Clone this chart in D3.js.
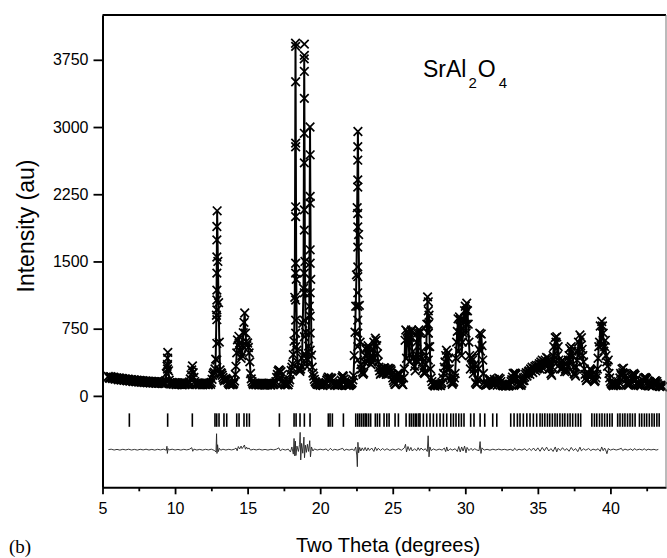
<!DOCTYPE html>
<html>
<head>
<meta charset="utf-8">
<title>SrAl2O4 - Rietveld plot</title>
<script src="https://d3js.org/d3.v7.min.js"></script>
<style>
  body { margin: 0; background: #fff; }
  text { font-family: "Liberation Sans", Arial, sans-serif; fill: #000; }
</style>
</head>
<body>
<script>
  var width = 667;
  var height = 558;
  var margin = {left: 102.5, top: 15, right: 1, bottom: 70.7};

  // observed counts, 2theta starts at 5.4 deg, 0.1 deg steps
  var thetaStart = 5.4;
  var thetaStep = 0.1;
  var counts = [
    218, 196, 212, 192, 206, 186,                          // 5.4 - 5.9
    200, 180, 196, 176, 192, 172, 188, 168, 184, 164,      // 6
    181, 160, 177, 157, 174, 154, 171, 151, 168, 149,      // 7
    166, 146, 163, 144, 161, 142, 159, 140, 157, 139,      // 8
    155, 137, 153, 136, 250, 485, 175, 132, 150, 130,      // 9
    148, 127, 145, 129, 142, 124, 146, 126, 141, 128,      // 10
    155, 235, 335, 205, 138, 125, 144, 127, 140, 124,      // 11
    143, 126, 141, 125, 144, 150, 230, 265, 410, 2065,     // 12
    1040, 290, 250, 205, 168, 195, 176, 138, 124, 140,     // 13
    128, 165, 330, 625, 665, 505, 450, 705, 925, 605,      // 14
    590, 480, 250, 160, 127, 142, 125, 140, 122, 139,      // 15
    124, 140, 121, 138, 123, 141, 120, 137, 125, 142,      // 16
    205, 275, 285, 270, 170, 137, 122, 139, 125, 180,      // 17
    285, 355, 610, 3935, 510, 305, 275, 335, 810, 3760,    // 18
    710, 325, 555, 3000, 455, 255, 185, 150, 128, 142,     // 19
    118, 133, 115, 130, 150, 192, 205, 185, 195, 140,      // 20
    118, 132, 114, 129, 135, 205, 218, 160, 118, 132,      // 21
    115, 130, 145, 225, 710, 1350, 2950, 1010, 350, 265,   // 22
    255, 450, 540, 560, 480, 350, 420, 600, 645, 560,      // 23
    380, 280, 255, 300, 315, 295, 290, 310, 300, 280,      // 24
    200, 150, 130, 230, 255, 240, 150, 125, 300, 735,      // 25
    720, 600, 650, 735, 500, 330, 400, 700, 735, 720,      // 26
    500, 300, 250, 450, 1105, 900, 300, 160, 125, 110,     // 27
    130, 112, 128, 115, 150, 250, 380, 510, 480, 300,      // 28
    180, 130, 160, 250, 600, 860, 880, 780, 600, 850,      // 29
    1000, 1035, 800, 450, 430, 400, 300, 150, 130, 300,    // 30
    700, 690, 400, 150, 118, 125, 140, 190, 170, 120,      // 31
    185, 150, 118, 200, 190, 130, 112, 125, 108, 122,      // 32
    110, 130, 180, 250, 255, 240, 150, 118, 128, 140,      // 33
    200, 210, 260, 250, 280, 300, 320, 300, 330, 340,      // 34
    310, 360, 380, 400, 360, 400, 430, 420, 300, 250,      // 35
    320, 550, 650, 660, 550, 350, 380, 400, 380, 300,      // 36
    270, 400, 530, 550, 450, 250, 220, 400, 600, 680,      // 37
    650, 450, 300, 200, 180, 250, 300, 280, 200, 160,      // 38
    200, 300, 550, 780, 830, 700, 550, 450, 330, 250,      // 39
    160, 128, 112, 135, 118, 130, 150, 250, 300, 310,      // 40
    220, 140, 122, 130, 160, 240, 250, 230, 140, 118,      // 41
    128, 112, 140, 200, 205, 190, 130, 112, 122, 108,      // 42
    150, 170, 160, 118, 105, 115, 100                      // 43.0 - 43.6
  ];

  // observed counts at the half steps, 2theta from 5.45 deg
  var midStart = 5.45;
  var countsMid = [
    202, 214, 198, 208, 190, 202,                          // 5.45 - 5.95
    188, 200, 182, 194, 178, 190, 174, 186, 170, 180,      // 6.05 ...
    168, 178, 164, 175, 160, 172, 158, 169, 155, 165,      // 7
    152, 164, 150, 162, 148, 160, 146, 158, 144, 156,      // 8
    142, 155, 140, 170, 330, 280, 148, 142, 135, 146,      // 9
    130, 144, 128, 141, 127, 143, 126, 140, 130, 142,      // 10
    190, 290, 260, 160, 130, 141, 126, 139, 128, 140,      // 11
    128, 140, 126, 139, 128, 185, 250, 300, 900, 1500,     // 12
    600, 260, 230, 185, 185, 180, 150, 130, 138, 126,      // 13
    140, 240, 480, 560, 590, 420, 560, 820, 700, 560,      // 14
    540, 380, 190, 140, 138, 126, 139, 124, 138, 126,      // 15
    138, 124, 137, 122, 139, 124, 136, 126, 138, 160,      // 16
    240, 290, 265, 230, 150, 125, 138, 124, 150, 240,      // 17
    320, 460, 1100, 1300, 380, 290, 300, 420, 1200, 1500,  // 18
    420, 400, 1000, 1300, 320, 220, 160, 138, 126, 130,    // 19
    128, 120, 132, 140, 175, 210, 190, 200, 160, 125,      // 20
    126, 120, 130, 124, 175, 225, 190, 130, 126, 118,      // 21
    124, 136, 180, 450, 1000, 2100, 1800, 600, 300, 240,   // 22
    380, 520, 380, 530, 420, 380, 520, 420, 620, 470,      // 23
    320, 240, 290, 250, 310, 240, 300, 250, 295, 240,      // 24
    170, 128, 200, 250, 180, 200, 130, 200, 620, 420,      // 25
    700, 380, 720, 420, 420, 280, 600, 380, 700, 430,      // 26
    380, 260, 350, 800, 700, 550, 200, 130, 118, 125,      // 27
    120, 126, 118, 135, 200, 320, 450, 300, 420, 220,      // 28
    150, 145, 200, 420, 720, 500, 850, 450, 700, 950,      // 29
    700, 950, 600, 300, 420, 250, 350, 135, 180, 520,      // 30
    500, 560, 250, 130, 122, 128, 175, 150, 160, 145,      // 31
    130, 170, 165, 140, 160, 118, 120, 112, 118, 115,      // 32
    118, 160, 210, 180, 250, 190, 130, 125, 118, 170,      // 33
    170, 240, 220, 270, 240, 280, 260, 310, 280, 300,      // 34
    340, 300, 350, 310, 380, 330, 360, 300, 380, 230,      // 35
    450, 380, 600, 450, 400, 300, 300, 330, 270, 290,      // 36
    330, 450, 380, 500, 320, 240, 320, 500, 450, 560,      // 37
    520, 380, 240, 170, 230, 210, 290, 240, 180, 170,      // 38
    240, 420, 600, 560, 780, 500, 620, 380, 400, 200,      // 39
    140, 120, 126, 120, 126, 118, 200, 230, 260, 250,      // 40
    175, 126, 118, 140, 200, 210, 240, 180, 128, 124,      // 41
    118, 125, 170, 160, 200, 150, 118, 124, 110, 135,      // 42
    165, 140, 135, 110, 120, 108                           // 43.05 - 43.55
  ];

  // extra observed points on the flanks of the sharp peaks
  var flankTheta = [9.48, 12.88, 18.31, 18.91, 19.31, 22.59, 27.45, 29.62, 30.07];
  var flankCounts = [
    [420, 350, 300],
    [1890, 1740, 1550, 1370, 1180, 1070, 960, 850, 585, 400],
    [3900, 3505, 2820, 2780, 2110, 2000, 1480, 1370, 1070, 845, 700, 550],
    [3925, 3800, 3620, 3320, 2930, 2600, 2075, 1850, 1370, 1150, 845, 660, 470],
    [2690, 2225, 2150, 1630, 1480, 1150, 890, 700, 510],
    [2780, 2630, 2410, 2330, 2035, 1885, 1660, 1440, 1330, 1150, 1000, 845, 700, 550, 400],
    [1050, 950, 800, 700, 550, 400],
    [780, 650],
    [950, 800]
  ];

  // Bragg reflection positions (2theta)
  var braggPositions = [6.85, 9.49, 11.19, 12.75, 12.87, 13.03, 13.37, 13.56, 14.25, 14.41, 14.75,
    14.94, 15.12, 17.19, 18.2, 18.34, 18.61, 18.91, 19.3, 20.56, 20.68, 20.84, 21.6, 22.45, 22.59,
    22.72, 22.85, 22.98, 23.1, 23.2, 23.34, 23.48, 23.8, 23.94, 24.1, 24.4, 24.59, 24.75, 25.16,
    25.39, 25.92, 26.15, 26.28, 26.42, 26.55, 26.65, 26.8, 26.88, 27.11, 27.34, 27.57, 27.8, 28.03,
    28.26, 28.49, 28.72, 29.0, 29.18, 29.36, 29.55, 29.73, 29.91, 30.37, 30.6, 31.02, 31.34, 31.89,
    32.17, 33.13, 33.36, 33.59, 33.77, 34.0, 34.24, 34.46, 34.69, 34.92, 35.15, 35.31, 35.48, 35.66,
    35.82, 36.0, 36.18, 36.34, 36.52, 36.7, 36.86, 37.05, 37.22, 37.4, 37.6, 37.78, 37.95, 38.72,
    38.9, 39.06, 39.25, 39.42, 39.6, 39.78, 39.95, 40.12, 40.5, 40.66, 40.84, 41.0, 41.18, 41.35,
    41.52, 41.7, 42.0, 42.16, 42.34, 42.5, 42.68, 42.86, 43.02, 43.2, 43.36];

  // observed - calculated, [2theta, counts]
  var difference = [
    [5.4,0],[5.6,5],[5.8,-4],[6.0,3],[6.2,-5],[6.4,4],[6.6,-3],[6.8,5],[7.0,-4],[7.2,3],[7.4,-5],
    [7.6,4],[7.8,-3],[8.0,5],[8.2,-4],[8.4,3],[8.6,-5],[8.8,4],[9.0,-3],[9.2,5],[9.4,-6],
    [9.44,38],[9.47,-42],[9.52,12],[9.6,-3],[9.8,5],[10.0,-4],[10.2,3],[10.4,-5],[10.6,4],[10.8,-3],
    [11.0,5],[11.15,22],[11.22,-18],[11.3,6],[11.5,-4],[11.7,3],[11.9,-5],[12.1,4],[12.3,-3],
    [12.5,5],[12.7,-8],[12.82,-25],[12.86,178],[12.89,-42],[12.93,55],[12.98,-22],[13.05,15],
    [13.15,-6],[13.3,5],[13.5,-4],[13.7,4],[13.9,-3],[14.1,6],[14.2,18],[14.28,-12],[14.36,35],
    [14.45,8],[14.55,40],[14.62,12],[14.7,30],[14.78,52],[14.85,5],[14.93,28],[15.0,8],[15.1,18],
    [15.2,-5],[15.4,4],[15.6,-3],[15.8,5],[16.0,-4],[16.2,3],[16.4,-5],[16.6,4],[16.8,-3],[17.0,6],
    [17.15,20],[17.25,-12],[17.4,5],[17.6,-4],[17.8,6],[17.95,-25],[18.05,30],[18.15,-50],[18.2,125],
    [18.25,-70],[18.29,95],[18.33,-65],[18.4,40],[18.5,-20],[18.58,60],[18.62,193],[18.66,-115],
    [18.72,70],[18.8,-40],[18.88,140],[18.92,-90],[18.98,50],[19.05,-30],[19.12,60],[19.2,-20],
    [19.28,100],[19.33,-80],[19.4,30],[19.5,-15],[19.6,8],[19.8,-4],[20.0,5],[20.2,-3],[20.4,8],
    [20.55,-12],[20.7,14],[20.85,-8],[21.0,4],[21.2,-5],[21.4,6],[21.55,15],[21.65,-10],[21.8,4],
    [22.0,-5],[22.2,6],[22.35,-10],[22.45,30],[22.52,-60],[22.56,-190],[22.6,82],[22.65,-35],
    [22.72,25],[22.8,-15],[22.9,20],[23.0,-10],[23.1,25],[23.2,-15],[23.3,20],[23.4,-8],[23.55,18],
    [23.7,-20],[23.8,28],[23.9,-10],[24.0,15],[24.15,-8],[24.3,12],[24.45,-6],[24.6,10],[24.8,-8],
    [25.0,6],[25.2,-5],[25.4,10],[25.6,-6],[25.8,20],[25.88,60],[25.95,-25],[26.05,35],[26.15,-10],
    [26.25,25],[26.35,-15],[26.5,10],[26.65,-12],[26.75,22],[26.85,-8],[26.95,18],[27.1,-6],
    [27.25,10],[27.38,-20],[27.44,155],[27.5,-80],[27.56,30],[27.65,-10],[27.8,8],[28.0,-6],
    [28.2,6],[28.4,-5],[28.55,18],[28.65,-22],[28.72,30],[28.8,-15],[28.95,10],[29.1,-5],[29.3,10],
    [29.45,-20],[29.55,35],[29.65,-25],[29.75,30],[29.85,-15],[29.95,40],[30.05,-35],[30.12,25],
    [30.25,-10],[30.4,15],[30.5,-8],[30.65,10],[30.8,-4],[30.95,-10],[31.02,90],[31.08,-42],
    [31.15,20],[31.3,-5],[31.5,4],[31.7,-6],[31.9,5],[32.1,-4],[32.3,6],[32.5,-3],[32.7,4],
    [32.9,-5],[33.1,4],[33.3,-10],[33.4,15],[33.55,-8],[33.7,5],[33.9,-5],[34.1,10],[34.25,-12],
    [34.4,14],[34.55,-10],[34.7,18],[34.85,-14],[35.0,20],[35.15,-18],[35.3,25],[35.45,-12],
    [35.6,28],[35.75,-15],[35.9,12],[36.05,-20],[36.2,30],[36.3,-25],[36.4,15],[36.55,-10],
    [36.7,22],[36.85,-8],[37.0,12],[37.15,-18],[37.3,25],[37.45,-10],[37.6,12],[37.75,-22],
    [37.9,28],[38.0,-12],[38.15,10],[38.3,-6],[38.5,12],[38.65,-10],[38.8,6],[39.0,-5],[39.15,10],
    [39.3,-18],[39.4,30],[39.5,-12],[39.6,18],[39.7,-15],[39.76,-45],[39.85,12],[40.0,-5],[40.2,6],
    [40.4,-4],[40.6,5],[40.75,15],[40.85,-10],[41.0,6],[41.2,-5],[41.4,8],[41.55,-10],[41.65,12],
    [41.8,-4],[42.0,5],[42.2,-4],[42.35,10],[42.45,-8],[42.6,5],[42.8,-3],[43.0,4],[43.15,-5],[43.3,3]
  ];

  var xTicks = [5, 10, 15, 20, 25, 30, 35, 40];
  var xMinorTicks = [7.5, 12.5, 17.5, 22.5, 27.5, 32.5, 37.5, 42.5];
  var yTicks = [0, 750, 1500, 2250, 3000, 3750];

  var diffOffset = -600;
  var braggTop = -195, braggBottom = -345;

  var xScale = d3.scaleLinear().domain([5, 43.83]).range([margin.left, width - margin.right]);
  var yScale = d3.scaleLinear().domain([-1020, 4250]).range([height - margin.bottom, margin.top]);

  var observed = counts.map(function(c, i){ return [thetaStart + i * thetaStep, c]; })
                       .concat(countsMid.map(function(c, i){ return [midStart + i * thetaStep, c]; }))
                       .sort(function(a, b){ return a[0] - b[0]; });
  var flankPoints = [];
  flankTheta.forEach(function(t, i){
    flankCounts[i].forEach(function(c){ flankPoints.push([t, c]); });
  });

  var svg = d3.select("body")
              .append("svg")
              .attr("width", width)
              .attr("height", height);

  // Bragg tick marks
  svg.append("g").selectAll("line")
     .data(braggPositions)
     .enter().append("line")
     .attr("x1", function(d){ return xScale(d); })
     .attr("x2", function(d){ return xScale(d); })
     .attr("y1", yScale(braggTop))
     .attr("y2", yScale(braggBottom))
     .attr("stroke", "#000")
     .attr("stroke-width", 1.6);

  // difference curve
  var diffLine = d3.line()
                   .x(function(d){ return xScale(d[0]); })
                   .y(function(d){ return yScale(diffOffset + d[1]); });
  svg.append("path")
     .datum(difference)
     .attr("d", diffLine)
     .attr("fill", "none")
     .attr("stroke", "#222")
     .attr("stroke-width", 0.9);

  // calculated profile
  var calcLine = d3.line()
                   .x(function(d){ return xScale(d[0]); })
                   .y(function(d){ return yScale(d[1]); });
  svg.append("path")
     .datum(observed)
     .attr("d", calcLine)
     .attr("fill", "none")
     .attr("stroke", "#000")
     .attr("stroke-width", 2);

  // observed points as x markers
  function xMark(s){
    return "M" + (-s) + "," + (-s) + "L" + s + "," + s + "M" + (-s) + "," + s + "L" + s + "," + (-s);
  }
  svg.append("g").selectAll("path")
     .data(observed.concat(flankPoints))
     .enter().append("path")
     .attr("d", xMark(4.3))
     .attr("transform", function(d){ return "translate(" + xScale(d[0]) + "," + yScale(d[1]) + ")"; })
     .attr("fill", "none")
     .attr("stroke", "#000")
     .attr("stroke-width", 1.7);

  // axes
  var yAxis = d3.axisLeft(yScale).tickValues(yTicks).tickFormat(d3.format("d"))
                .tickSize(9).tickSizeOuter(0).tickPadding(5);
  var gy = svg.append("g").attr("transform", "translate(" + margin.left + ",0)").call(yAxis);

  var xAxis = d3.axisBottom(xScale).tickValues(xTicks).tickFormat(d3.format("d"))
                .tickSize(7).tickSizeOuter(0).tickPadding(8);
  var gx = svg.append("g").attr("transform", "translate(0," + (height - margin.bottom) + ")").call(xAxis);

  var xMinor = d3.axisBottom(xScale).tickValues(xMinorTicks).tickSize(4).tickSizeOuter(0).tickFormat("");
  var gxm = svg.append("g").attr("transform", "translate(0," + (height - margin.bottom) + ")").call(xMinor);
  gxm.select(".domain").remove();

  [gy, gx, gxm].forEach(function(g){
    g.selectAll("text").style("font-size", "16px").style("font-family", "Liberation Sans, Arial, sans-serif");
    g.selectAll("line").attr("stroke-width", 1.8);
    g.select(".domain").attr("stroke-width", 2);
  });

  // frame top and right
  svg.append("line")
     .attr("x1", margin.left).attr("x2", width - margin.right)
     .attr("y1", margin.top).attr("y2", margin.top)
     .attr("stroke", "#000").attr("stroke-width", 2);
  svg.append("line")
     .attr("x1", width - margin.right).attr("x2", width - margin.right)
     .attr("y1", margin.top).attr("y2", height - margin.bottom)
     .attr("stroke", "#777").attr("stroke-width", 1);

  // titles
  svg.append("text")
     .attr("x", 388).attr("y", 552)
     .attr("text-anchor", "middle")
     .style("font-size", "20px")
     .text("Two Theta (degrees)");

  svg.append("text")
     .attr("transform", "translate(34,226) rotate(-90)")
     .attr("text-anchor", "middle")
     .style("font-size", "23px")
     .text("Intensity (au)");

  svg.append("text")
     .attr("x", 9).attr("y", 553)
     .style("font-family", "Liberation Serif, Times New Roman, serif")
     .style("font-size", "19px")
     .text("(b)");

  var formula = svg.append("text")
                   .attr("x", 423).attr("y", 77)
                   .style("font-size", "23px");
  formula.append("tspan").text("SrAl");
  formula.append("tspan").attr("dy", 11).attr("dx", 2).style("font-size", "15px").text("2");
  formula.append("tspan").attr("dy", -11).attr("dx", 1).text("O");
  formula.append("tspan").attr("dy", 11).attr("dx", 3).style("font-size", "15px").text("4");
</script>
</body>
</html>
